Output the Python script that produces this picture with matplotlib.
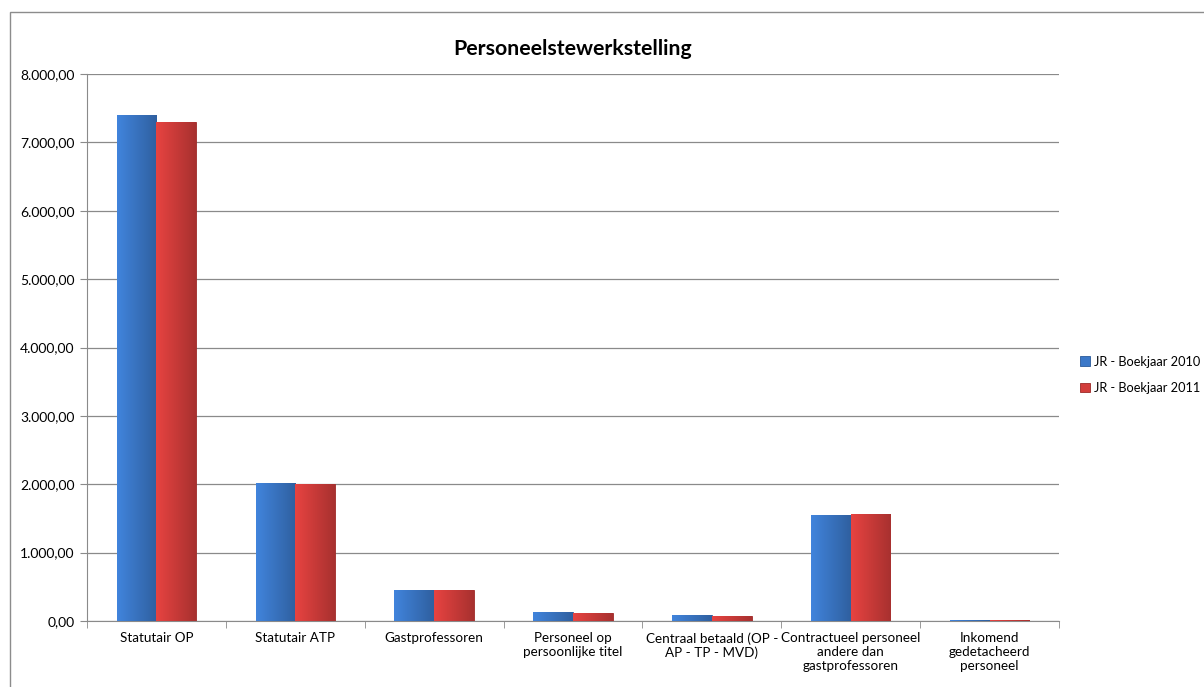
import numpy as np
import matplotlib.pyplot as plt
from matplotlib.patches import Rectangle
from matplotlib.colors import to_rgb
from matplotlib.ticker import FuncFormatter, MultipleLocator

plt.rcParams['font.family'] = ['Lato', 'DejaVu Sans']

categories = ['Statutair OP', 'Statutair ATP', 'Gastprofessoren',
              'Personeel op\npersoonlijke titel', 'Centraal betaald (OP -\nAP - TP - MVD)',
              'Contractueel personeel\nandere dan\ngastprofessoren',
              'Inkomend\ngedetacheerd\npersoneel']
jr_2010 = [7405, 2012, 452, 127, 83, 1545, 10]
jr_2011 = [7292, 1998, 460, 113, 69, 1558, 10]
series_names = ['JR - Boekjaar 2010', 'JR - Boekjaar 2011']
colors = ['#3b78c8', '#d23d3b']
edge_colors = ['#2a5a99', '#9c2a28']


def nl_fmt(v, pos):
    s = f'{v:,.2f}'
    return s.replace(',', 'X').replace('.', ',').replace('X', '.')


def shade_bar(ax, bar, color):
    # soft horizontal shading to mimic the bevelled Excel bars
    x, y = bar.get_x(), bar.get_y()
    w, h = bar.get_width(), bar.get_height()
    shade = 1.1 - 0.3 * np.linspace(0, 1, 64)
    rgb = np.array(to_rgb(color))
    img = np.clip(shade[None, :, None] * rgb[None, None, :], 0, 1)
    im = ax.imshow(img, extent=[x, x + w, y, y + h], aspect='auto',
                   zorder=bar.get_zorder() + 0.1, interpolation='bilinear')
    im.set_clip_path(bar)


fig = plt.figure(figsize=(12.04, 6.87), dpi=100)
ax = fig.add_axes([87 / 1204, 66 / 687, (1059 - 87) / 1204, (621 - 74) / 687])

fig.patches.append(Rectangle((10 / 1204, -0.01), 1.2, (675 / 687) + 0.01,
                             transform=fig.transFigure, fill=False,
                             edgecolor='#8c8c8c', linewidth=1.0))

x = np.arange(len(categories))
w = 1 / 3.5
for i, vals in enumerate([jr_2010, jr_2011]):
    bars = ax.bar(x + (i - 0.5) * w, vals, width=w, color=colors[i],
                  edgecolor=edge_colors[i], linewidth=0.6, zorder=3,
                  label=series_names[i])
    for b in bars:
        shade_bar(ax, b, colors[i])

ax.set_xlim(-0.5, len(categories) - 0.5)
ax.set_ylim(0, 8000)
ax.yaxis.set_major_locator(MultipleLocator(1000))
ax.yaxis.set_major_formatter(FuncFormatter(nl_fmt))
ax.grid(axis='y', color='#8a8a8a', linewidth=0.9, zorder=0)
ax.set_axisbelow(True)

ax.set_xticks(x)
ax.set_xticklabels(categories, fontsize=9.7, linespacing=1.2)
ax.tick_params(axis='x', length=0, pad=8)
ax.set_xticks(np.arange(-0.5, len(categories)), minor=True)
ax.tick_params(axis='x', which='minor', length=5, color='#8a8a8a')
ax.tick_params(axis='y', length=5, color='#8a8a8a', labelsize=10, pad=4)

for s in ['top', 'right']:
    ax.spines[s].set_visible(False)
for s in ['left', 'bottom']:
    ax.spines[s].set_color('#8a8a8a')

ax.set_title('Personeelstewerkstelling', fontsize=15.3, fontweight='bold', pad=14)

ax.legend(loc='center left', bbox_to_anchor=(1.01, 0.45), frameon=False,
          fontsize=9.2, handlelength=0.8, handleheight=0.8, handletextpad=0.3,
          labelspacing=1.1)

fig.savefig('out.png', dpi=100)
